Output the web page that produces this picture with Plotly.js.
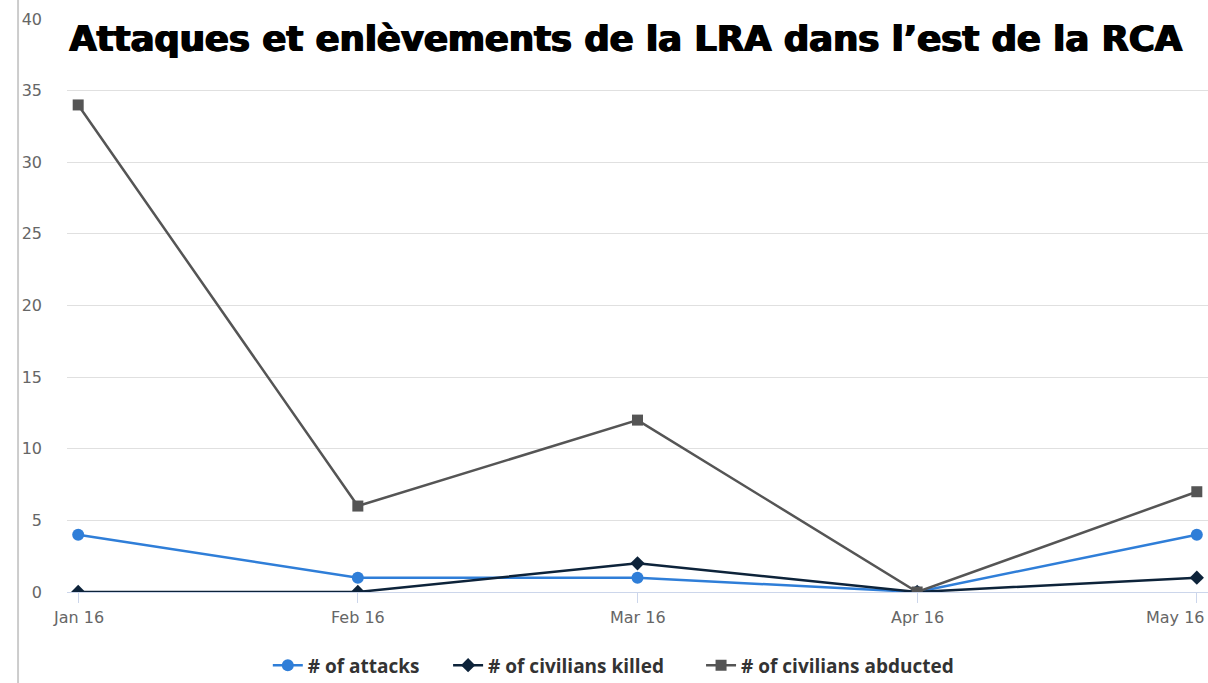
<!DOCTYPE html>
<html><head><meta charset="utf-8">
<script src="https://cdn.plot.ly/plotly-3.0.1.min.js"></script>
<style>html,body{margin:0;padding:0;background:#fff;}#chart{width:1208px;height:683px;}</style>
</head><body><div id="chart"></div>
<script>
const months = ["Jan 16","Feb 16","Mar 16","Apr 16","May 16"];
const attacks = [4,1,1,0,4];
const killed = [0,0,2,0,1];
const abducted = [34,6,12,0,7];
const yTicks = [0,5,10,15,20,25,30,35,40];

const traces = [
  {x:months,y:attacks,name:"# of attacks",mode:"lines+markers",legend:"legend",
   line:{color:"#2f7ed8",width:2.5},marker:{symbol:"circle",size:12,color:"#2f7ed8"}},
  {x:months,y:killed,name:"# of civilians killed",mode:"lines+markers",legend:"legend2",
   line:{color:"#0d233a",width:2.5},marker:{symbol:"diamond",size:11,color:"#0d233a"}},
  {x:months,y:abducted,name:"# of civilians abducted",mode:"lines+markers",legend:"legend3",
   line:{color:"#555555",width:2.5},marker:{symbol:"square",size:11,color:"#555555"}}
];
const tickFont = {family:"DejaVu Sans",size:16,color:"#666"};
const last = months.length - 1;
const xLabels = months.map((m,i)=> i < last
  ? {x:m,xref:"x",y:0,yref:"paper",yanchor:"top",xanchor:"center",yshift:-14,
     text:m,showarrow:false,font:tickFont}
  : {x:1,xref:"paper",y:0,yref:"paper",yanchor:"top",xanchor:"right",xshift:-1,yshift:-14,
     text:m,showarrow:false,font:tickFont});
const legFont = {family:"Open Sans",size:19,color:"#333",weight:"bold"};
const legY = -0.0948;
const layout = {
  width:1208,height:683,
  margin:{l:67,r:0,t:19,b:91,autoexpand:false},
  paper_bgcolor:"#fff",plot_bgcolor:"#fff",
  title:{text:"Attaques et enlèvements de la LRA dans l’est de la RCA",
    font:{family:"DejaVu Sans",size:35.4,color:"#000",weight:"bold",
      shadow:"0.9px 0 0 #000, -0.9px 0 0 #000"},
    x:0.518,xanchor:"center",y:0.944,yanchor:"middle"},
  xaxis:{type:"category",range:[-0.04,4.04],showgrid:false,zeroline:false,
    showline:true,linecolor:"#ccd6eb",linewidth:1,
    ticks:"outside",ticklen:10,tickcolor:"#ccd6eb",showticklabels:false},
  yaxis:{range:[0,40],tickvals:yTicks,showgrid:true,gridcolor:"#e0e0e0",zeroline:false,
    showline:false,ticks:"",ticklabelstandoff:24,tickfont:tickFont},
  legend:{orientation:"h",x:0.176,xanchor:"left",y:legY,yanchor:"top",font:legFont,itemwidth:30},
  legend2:{orientation:"h",x:0.334,xanchor:"left",y:legY,yanchor:"top",font:legFont,itemwidth:30},
  legend3:{orientation:"h",x:0.5557,xanchor:"left",y:legY,yanchor:"top",font:legFont,itemwidth:30},
  annotations:xLabels,
  shapes:[{type:"line",xref:"paper",yref:"paper",x0:-0.0429,x1:-0.0429,y0:-0.2,y1:1.05,
    line:{color:"#cccccc",width:2}}],
  showlegend:true
};
Plotly.newPlot("chart",traces,layout,{displayModeBar:false});
</script></body></html>
